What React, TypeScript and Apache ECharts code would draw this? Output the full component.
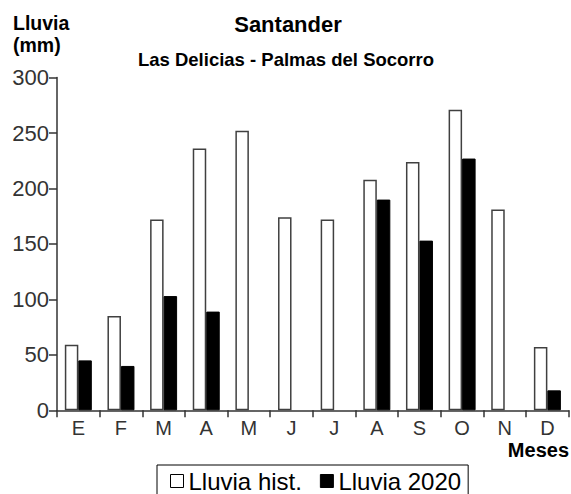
import React, { useEffect, useRef } from "react";
import * as echarts from "echarts";

const months = ["E", "F", "M", "A", "M", "J", "J", "A", "S", "O", "N", "D"];
const lluviaHist = [59, 85, 172, 236, 252, 174, 172, 208, 224, 271, 181, 57];
const lluvia2020 = [45, 40, 103, 89, null, null, null, 190, 153, 227, null, 18];
const yTicks = { min: 0, max: 300, interval: 50 };

const FONT = "'Liberation Sans', Arial, sans-serif";
const AXIS = "#333333";

export default function App() {
  const ref = useRef<HTMLDivElement>(null);
  useEffect(() => {
    if (!ref.current) return;
    const chart = echarts.init(ref.current, null, { renderer: "svg" });
    chart.setOption({
      animation: false,
      backgroundColor: "#ffffff",
      textStyle: { fontFamily: FONT },
      title: [
        {
          text: "Santander",
          left: 288,
          top: 13,
          padding: 0,
          textAlign: "center",
          textStyle: { fontFamily: FONT, fontSize: 22, fontWeight: "bold", color: "#000" },
        },
        {
          text: "Las Delicias - Palmas del Socorro",
          left: 286,
          top: 50,
          padding: 0,
          textAlign: "center",
          textStyle: { fontFamily: FONT, fontSize: 18.5, fontWeight: "bold", color: "#000" },
        },
        {
          text: "Lluvia\n(mm)",
          left: 13,
          top: 12,
          padding: 0,
          textStyle: { fontFamily: FONT, fontSize: 19.5, fontWeight: "bold", color: "#000", lineHeight: 22 },
        },
        {
          text: "Meses",
          right: 2,
          top: 440,
          padding: 0,
          textStyle: { fontFamily: FONT, fontSize: 20, fontWeight: "bold", color: "#000" },
        },
      ],
      legend: {
        left: 157,
        top: 465,
        padding: [4, 7, 12, 13],
        borderColor: "#000",
        borderWidth: 1,
        itemWidth: 13,
        itemHeight: 13,
        itemGap: 18,
        icon: "rect",
        selectedMode: false,
        textStyle: { fontFamily: FONT, fontSize: 24, color: "#000", padding: 0 },
        data: [
          { name: "Lluvia hist.", itemStyle: { color: "#fff", borderColor: "#000", borderWidth: 1 } },
          { name: "Lluvia 2020", itemStyle: { color: "#000", borderColor: "#000", borderWidth: 1 } },
        ],
      },
      grid: { left: 57, right: 2.3, top: 77.6, bottom: 83.7, containLabel: false },
      xAxis: {
        type: "category",
        data: months,
        axisLine: { lineStyle: { color: AXIS, width: 1.5 } },
        axisTick: { show: true, length: 7, lineStyle: { color: AXIS, width: 1.5 }, interval: 0 },
        axisLabel: { fontFamily: FONT, fontSize: 20, color: "#333", margin: 8, interval: 0 },
        splitLine: { show: false },
      },
      yAxis: {
        type: "value",
        min: yTicks.min,
        max: yTicks.max,
        interval: yTicks.interval,
        axisLine: { show: true, lineStyle: { color: AXIS, width: 1.5 } },
        axisTick: { show: true, length: 8, lineStyle: { color: AXIS, width: 1.5 } },
        axisLabel: { fontFamily: FONT, fontSize: 22, color: "#333", margin: 8 },
        splitLine: { show: false },
      },
      series: [
        {
          name: "Lluvia hist.",
          type: "bar",
          data: lluviaHist,
          barWidth: 13.5,
          barGap: "0%",
          itemStyle: { color: "#ffffff", borderColor: "#404040", borderWidth: 1.5 },
        },
        {
          name: "Lluvia 2020",
          type: "bar",
          data: lluvia2020,
          barWidth: 13.5,
          barGap: "0%",
          itemStyle: { color: "#000000", borderColor: "#000000", borderWidth: 1 },
        },
      ],
    });
    return () => chart.dispose();
  }, []);
  return (
    <div
      ref={ref}
      style={{ position: "fixed", left: 0, top: 0, width: 571, height: 494, background: "#fff" }}
    />
  );
}
